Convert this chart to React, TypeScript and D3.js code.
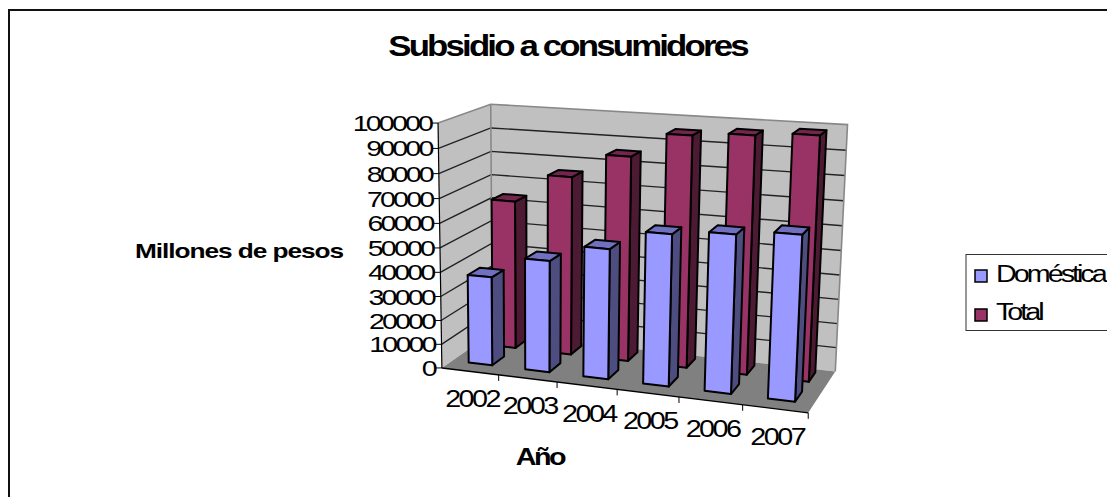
import React from "react";
import * as d3 from "d3";

const categories = ["2002", "2003", "2004", "2005", "2006", "2007"];
const domestica = [37000, 46000, 53000, 61000, 63000, 65000];
const total = [63000, 75000, 85000, 95000, 96500, 98000];
const valueTicks = d3.range(0, 100001, 10000);

const seriesColors = [
  { name: "Doméstica", front: "#9999ff", side: "#4d4d80", top: "#7070c0" },
  { name: "Total", front: "#993366", side: "#4d1a33", top: "#73264d" },
];

// Reference points of the box: [x, y, z] -> [screen x, screen y]
const anchors: [number[], number[]][] = [
  [[0, 0, 0], [445, 366]],
  [[1, 0, 0], [808, 415]],
  [[0, 0, 1], [489, 335]],
  [[1, 0, 1], [836, 369]],
  [[0, 1, 1], [494, 104]],
  [[1, 1, 1], [847, 125]],
  [[0, 1, 0], [435, 123]],
];

function solve(a: number[][], b: number[]) {
  const n = b.length;
  const m = a.map((r, i) => [...r, b[i]]);
  for (let c = 0; c < n; c++) {
    let p = c;
    for (let r = c + 1; r < n; r++) if (Math.abs(m[r][c]) > Math.abs(m[p][c])) p = r;
    [m[c], m[p]] = [m[p], m[c]];
    for (let r = 0; r < n; r++) {
      if (r === c) continue;
      const f = m[r][c] / m[c][c];
      for (let k = c; k <= n; k++) m[r][k] -= f * m[c][k];
    }
  }
  return m.map((r, i) => r[n] / r[i]);
}

// Least-squares camera matrix fitted to the box corners
function fitCamera() {
  const rows: number[][] = [];
  const rhs: number[] = [];
  for (const [[x, y, z], [u, v]] of anchors) {
    rows.push([x, y, z, 1, 0, 0, 0, 0, -u * x, -u * y, -u * z]);
    rhs.push(u);
    rows.push([0, 0, 0, 0, x, y, z, 1, -v * x, -v * y, -v * z]);
    rhs.push(v);
  }
  const n = 11;
  const ata = d3.range(n).map((i) => d3.range(n).map((j) => d3.sum(rows, (r) => r[i] * r[j])));
  const atb = d3.range(n).map((i) => d3.sum(rows, (r, k) => r[i] * rhs[k]));
  return solve(ata, atb);
}
const cam = fitCamera();

const xScale = d3.scaleBand<string>().domain(categories).range([0, 1]);
const yScale = d3.scaleLinear().domain([0, 100000]).range([0, 1]);

function project(x: number, v: number, z: number): [number, number] {
  const y = yScale(v);
  const w = cam[8] * x + cam[9] * y + cam[10] * z + 1;
  return [
    (cam[0] * x + cam[1] * y + cam[2] * z + cam[3]) / w,
    (cam[4] * x + cam[5] * y + cam[6] * z + cam[7]) / w,
  ];
}

const poly = (pts: [number, number][]) => (d3.line()(pts) ?? "") + "Z";

const FONT = "'Liberation Sans', Arial, sans-serif";
const barHalf = 0.21;
const depthBands = [
  [0.2, 0.44],
  [0.68, 0.92],
];

// Horizontally widened label, as the chart's type is drawn wider than tall
function Label({ x, y, size, sx, spacing, anchor = "start", bold = false, children }: {
  x: number; y: number; size: number; sx: number; spacing: number;
  anchor?: "start" | "middle" | "end"; bold?: boolean; children: React.ReactNode;
}) {
  return (
    <text
      transform={`translate(${x},${y}) scale(${sx},1)`}
      textAnchor={anchor}
      fontSize={size}
      fontWeight={bold ? "bold" : "normal"}
      letterSpacing={spacing}
    >
      {children}
    </text>
  );
}

function Bar({ cat, value, s }: { cat: string; value: number; s: number }) {
  const bw = xScale.bandwidth();
  const c = (xScale(cat) ?? 0) + bw / 2;
  const x0 = c - bw * barHalf;
  const x1 = c + bw * barHalf;
  const [z0, z1] = depthBands[s];
  const col = seriesColors[s];
  const stroke = { stroke: "#000", strokeWidth: 2, strokeLinejoin: "round" as const };
  return (
    <g>
      <path d={poly([project(x1, 0, z0), project(x1, 0, z1), project(x1, value, z1), project(x1, value, z0)])} fill={col.side} {...stroke} />
      <path d={poly([project(x0, value, z0), project(x1, value, z0), project(x1, value, z1), project(x0, value, z1)])} fill={col.top} {...stroke} />
      <path d={poly([project(x0, 0, z0), project(x1, 0, z0), project(x1, value, z0), project(x0, value, z0)])} fill={col.front} {...stroke} />
    </g>
  );
}

export default function App() {
  const axisTop = project(0, 100000, 0);
  const axisBottom = project(0, 0, 0);
  const floorFront1 = project(1, 0, 0);
  return (
    <svg width={1107} height={497} style={{ position: "absolute", left: 0, top: 0 }} fontFamily={FONT}>
      <rect x={0} y={0} width={1107} height={497} fill="#fff" />
      <rect x={9} y={10} width={1120} height={520} fill="#fff" stroke="#111" strokeWidth={2} />

      <Label x={567.5} y={56} size={29} sx={1.2} spacing={-2.35} anchor="middle" bold>Subsidio a consumidores</Label>
      <Label x={239} y={258} size={21} sx={1.25} spacing={-0.85} anchor="middle" bold>Millones de pesos</Label>
      <Label x={540} y={465} size={23} sx={1.25} spacing={-2} anchor="middle" bold>Año</Label>

      {/* walls and floor */}
      <path d={poly([project(0, 0, 0), project(0, 100000, 0), project(0, 100000, 1), project(0, 0, 1)])} fill="#c0c0c0" />
      <path d={poly([project(0, 0, 1), project(0, 100000, 1), project(1, 100000, 1), project(1, 0, 1)])} fill="#c0c0c0" />
      <path d={poly([project(0, 0, 0), project(0, 0, 1), project(1, 0, 1), project(1, 0, 0)])} fill="#808080" />
      {valueTicks.slice(1, -1).map((t) => (
        <path key={t} d={d3.line()([project(0, t, 0), project(0, t, 1), project(1, t, 1)]) ?? ""} fill="none" stroke="#222" strokeWidth={1.4} />
      ))}
      <path d={d3.line()([project(0, 100000, 0), project(0, 100000, 1), project(1, 100000, 1), project(1, 0, 1)]) ?? ""} fill="none" stroke="#888" strokeWidth={1.6} />
      <path d={d3.line()([project(0, 100000, 1), project(0, 0, 1)]) ?? ""} fill="none" stroke="#888" strokeWidth={1.6} />

      {/* value axis */}
      <path d={d3.line()([axisTop, axisBottom]) ?? ""} stroke="#000" strokeWidth={1.2} fill="none" />
      {valueTicks.map((t) => {
        const [x, y] = project(0, t, 0);
        return (
          <g key={t}>
            <line x1={x - 6} x2={x} y1={y} y2={y} stroke="#000" />
            <Label x={x - 7} y={y + 8} size={22} sx={1.3} spacing={-2.2} anchor="end">{t}</Label>
          </g>
        );
      })}

      {/* category axis */}
      <path d={d3.line()([axisBottom, floorFront1]) ?? ""} stroke="#000" strokeWidth={1.4} fill="none" />
      {categories.map((c) => {
        const [x, y] = project((xScale(c) ?? 0) + xScale.bandwidth(), 0, 0);
        const [lx, ly] = project((xScale(c) ?? 0) + xScale.bandwidth() / 2, 0, 0);
        return (
          <g key={c}>
            <line x1={x} x2={x} y1={y} y2={y + 6} stroke="#000" />
            <Label x={lx + 2} y={ly + 36} size={23} sx={1.25} spacing={-2} anchor="middle">{c}</Label>
          </g>
        );
      })}

      {/* columns, back row first */}
      {categories.map((c, i) => <Bar key={c} cat={c} value={total[i]} s={1} />)}
      {categories.map((c, i) => <Bar key={c} cat={c} value={domestica[i]} s={0} />)}

      {/* legend */}
      <rect x={966} y={254.5} width={160} height={76} fill="#fff" stroke="#333" />
      {seriesColors.map((s, i) => (
        <g key={s.name}>
          <rect x={975} y={270 + i * 39} width={12} height={12} fill={s.front} stroke="#000" strokeWidth={1.5} />
          <Label x={996} y={282 + i * 38} size={23} sx={1.25} spacing={-2.4}>{s.name}</Label>
        </g>
      ))}
    </svg>
  );
}
